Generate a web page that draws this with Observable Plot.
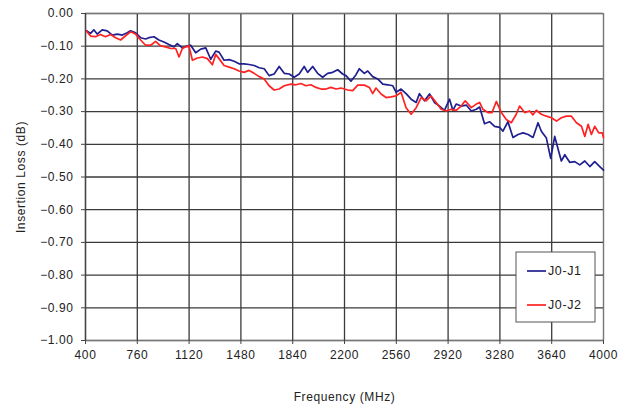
<!DOCTYPE html>
<html>
<head>
<meta charset="utf-8">
<script src="https://cdn.jsdelivr.net/npm/d3@7"></script>
<script src="https://cdn.jsdelivr.net/npm/@observablehq/plot@0.6"></script>
<style>
  html, body { margin: 0; padding: 0; background: #fff; }
  #chart { width: 633px; height: 408px; }
  svg { font-family: "Liberation Sans", Arial, sans-serif; }
</style>
</head>
<body>
<div id="chart"></div>
<script>
const seriesNames = ["J0-J1", "J0-J2"];
const seriesColors = ["#1f1f8f", "#ff2222"];
const xTicks = [400, 760, 1120, 1480, 1840, 2200, 2560, 2920, 3280, 3640, 4000];
const yTicks = [0, -0.1, -0.2, -0.3, -0.4, -0.5, -0.6, -0.7, -0.8, -0.9, -1.0];

const j1Freq = [407,435,458,481,516,551,586,621,656,690,713,748,783,818,841,876,910,945,980,1015,1038,1073,1108,1131,1166,1201,1236,1270,
  1305,1328,1363,1398,1433,1467,1502,1537,1572,1607,1642,1676,1711,1746,1781,1816,1850,1885,1920,1944,1979,2013,2048,2083,2118,2153,2187,
  2210,2245,2280,2303,2338,2361,2396,2431,2466,2501,2536,2559,2593,2628,2663,2698,2721,2756,2791,2825,2860,2895,2930,2953,2976,3011,3046,3081,
  3116,3139,3173,3208,3243,3278,3301,3336,3371,3406,3441,3476,3510,3545,3568,3603,3633,3661,3689,3707,3731,3765,3800,3835,3870,3905,3939,3974,4000];
const j1Loss = [-0.053,-0.061,-0.050,-0.063,-0.050,-0.053,-0.066,-0.063,-0.066,-0.059,-0.053,-0.059,-0.074,-0.078,-0.074,-0.071,-0.081,-0.087,-0.095,-0.102,-0.092,-0.105,-0.099,-0.097,-0.120,-0.109,-0.105,-0.140,
  -0.115,-0.118,-0.143,-0.141,-0.146,-0.154,-0.154,-0.156,-0.159,-0.166,-0.169,-0.190,-0.185,-0.162,-0.183,-0.185,-0.195,-0.185,-0.162,-0.180,-0.162,-0.183,-0.195,-0.183,-0.180,-0.172,-0.185,
  -0.190,-0.207,-0.187,-0.169,-0.183,-0.176,-0.193,-0.200,-0.216,-0.218,-0.221,-0.241,-0.231,-0.245,-0.262,-0.272,-0.245,-0.267,-0.246,-0.272,-0.283,-0.296,-0.262,-0.296,-0.277,-0.283,-0.280,-0.298,
  -0.293,-0.286,-0.337,-0.331,-0.345,-0.348,-0.360,-0.331,-0.379,-0.370,-0.365,-0.370,-0.379,-0.334,-0.360,-0.381,-0.443,-0.376,-0.422,-0.451,-0.432,-0.455,-0.453,-0.463,-0.451,-0.468,-0.453,-0.468,-0.479];

const j2Freq = [407,435,470,504,539,574,609,644,679,713,748,783,818,853,887,922,957,992,1027,1050,1073,1096,1119,1143,1178,1213,1247,1282,
  1305,1328,1363,1398,1433,1467,1502,1537,1572,1607,1642,1676,1711,1746,1781,1827,1862,1897,1932,1967,2001,2036,2071,2106,2141,2176,
  2222,2257,2292,2338,2373,2396,2419,2454,2489,2524,2559,2593,2628,2663,2698,2733,2767,2802,2837,2872,2907,2941,2976,3011,3039,3081,
  3116,3139,3162,3197,3225,3255,3290,3324,3359,3394,3417,3452,3487,3510,3533,3568,3603,3638,3673,3707,3742,3777,3812,3847,3870,3893,3916,3939,3967,3991,4000];
const j2Loss = [-0.054,-0.069,-0.071,-0.064,-0.071,-0.064,-0.074,-0.081,-0.068,-0.056,-0.063,-0.081,-0.097,-0.097,-0.085,-0.099,-0.102,-0.107,-0.107,-0.133,-0.107,-0.102,-0.099,-0.143,-0.136,-0.133,-0.138,-0.157,
  -0.125,-0.138,-0.159,-0.164,-0.169,-0.176,-0.180,-0.174,-0.183,-0.193,-0.200,-0.221,-0.234,-0.231,-0.221,-0.216,-0.218,-0.214,-0.221,-0.218,-0.226,-0.231,-0.231,-0.226,-0.231,-0.228,
  -0.234,-0.236,-0.219,-0.219,-0.226,-0.245,-0.228,-0.246,-0.257,-0.255,-0.252,-0.241,-0.288,-0.308,-0.288,-0.257,-0.267,-0.252,-0.272,-0.293,-0.298,-0.293,-0.296,-0.283,-0.267,-0.288,
  -0.277,-0.272,-0.293,-0.303,-0.303,-0.269,-0.303,-0.324,-0.334,-0.308,-0.283,-0.303,-0.298,-0.310,-0.296,-0.308,-0.314,-0.319,-0.329,-0.319,-0.314,-0.314,-0.334,-0.345,-0.376,-0.339,-0.370,-0.345,-0.365,-0.365,-0.379];

const data = [
  ...j1Freq.map((f, i) => ({freq: f, loss: j1Loss[i], series: seriesNames[0]})),
  ...j2Freq.map((f, i) => ({freq: f, loss: j2Loss[i], series: seriesNames[1]}))
];

const W = 633, H = 408;
const mL = 85, mR = 30, mT = 13, mB = 68;

const plot = Plot.plot({
  width: W,
  height: H,
  marginLeft: mL,
  marginRight: mR,
  marginTop: mT,
  marginBottom: mB,
  style: {fontFamily: '"Liberation Sans", Arial, sans-serif', fontSize: "12px", color: "#222", background: "#fff"},
  x: {domain: [400, 4000], ticks: xTicks, label: null},
  y: {domain: [-1, 0], ticks: yTicks, label: null},
  color: {domain: seriesNames, range: seriesColors},
  marks: [
    Plot.gridX(xTicks, {stroke: "#3a3a3a", strokeOpacity: 1, strokeWidth: 1.3}),
    Plot.gridY(yTicks, {stroke: "#3a3a3a", strokeOpacity: 1, strokeWidth: 1.3}),
    Plot.frame({stroke: "#777", strokeWidth: 1}),
    Plot.ruleX([400], {stroke: "#444", strokeWidth: 1.3}),
    Plot.axisX({ticks: xTicks, tickSize: 4, tickPadding: 6, tickFormat: d => String(d), fontSize: 12, stroke: "#444",
      label: "Frequency (MHz)", labelAnchor: "center", labelArrow: "none", labelOffset: 60}),
    Plot.axisY({ticks: yTicks, tickSize: 4, tickPadding: 8, tickFormat: d => d3.format(".2f")(d === 0 ? 0 : d), fontSize: 12, stroke: "#444",
      label: "Insertion Loss (dB)", labelAnchor: "center", labelArrow: "none", labelOffset: 69}),
    Plot.line(data, {x: "freq", y: "loss", z: "series", stroke: "series", strokeWidth: 1.7, curve: "linear"})
  ]
});

document.getElementById("chart").appendChild(plot);

// Legend box inside the plot area, bottom right
const svg = d3.select(plot);
svg.selectAll("text").attr("letter-spacing", "0.6px");
const lg = svg.append("g").attr("transform", "translate(516,252)");
lg.append("rect").attr("width", 79).attr("height", 70).attr("fill", "#fff").attr("stroke", "#555").attr("stroke-width", 1);
seriesNames.forEach((name, i) => {
  const yy = 19 + i * 34;
  lg.append("line").attr("x1", 11).attr("x2", 30).attr("y1", yy).attr("y2", yy)
    .attr("stroke", seriesColors[i]).attr("stroke-width", 1.7);
  lg.append("text").attr("x", 32).attr("y", yy).attr("dy", "0.35em").attr("text-anchor", "start")
    .attr("font-size", 12.5).attr("letter-spacing", "0.6px").attr("fill", "#222").text(name);
});
</script>
</body>
</html>
